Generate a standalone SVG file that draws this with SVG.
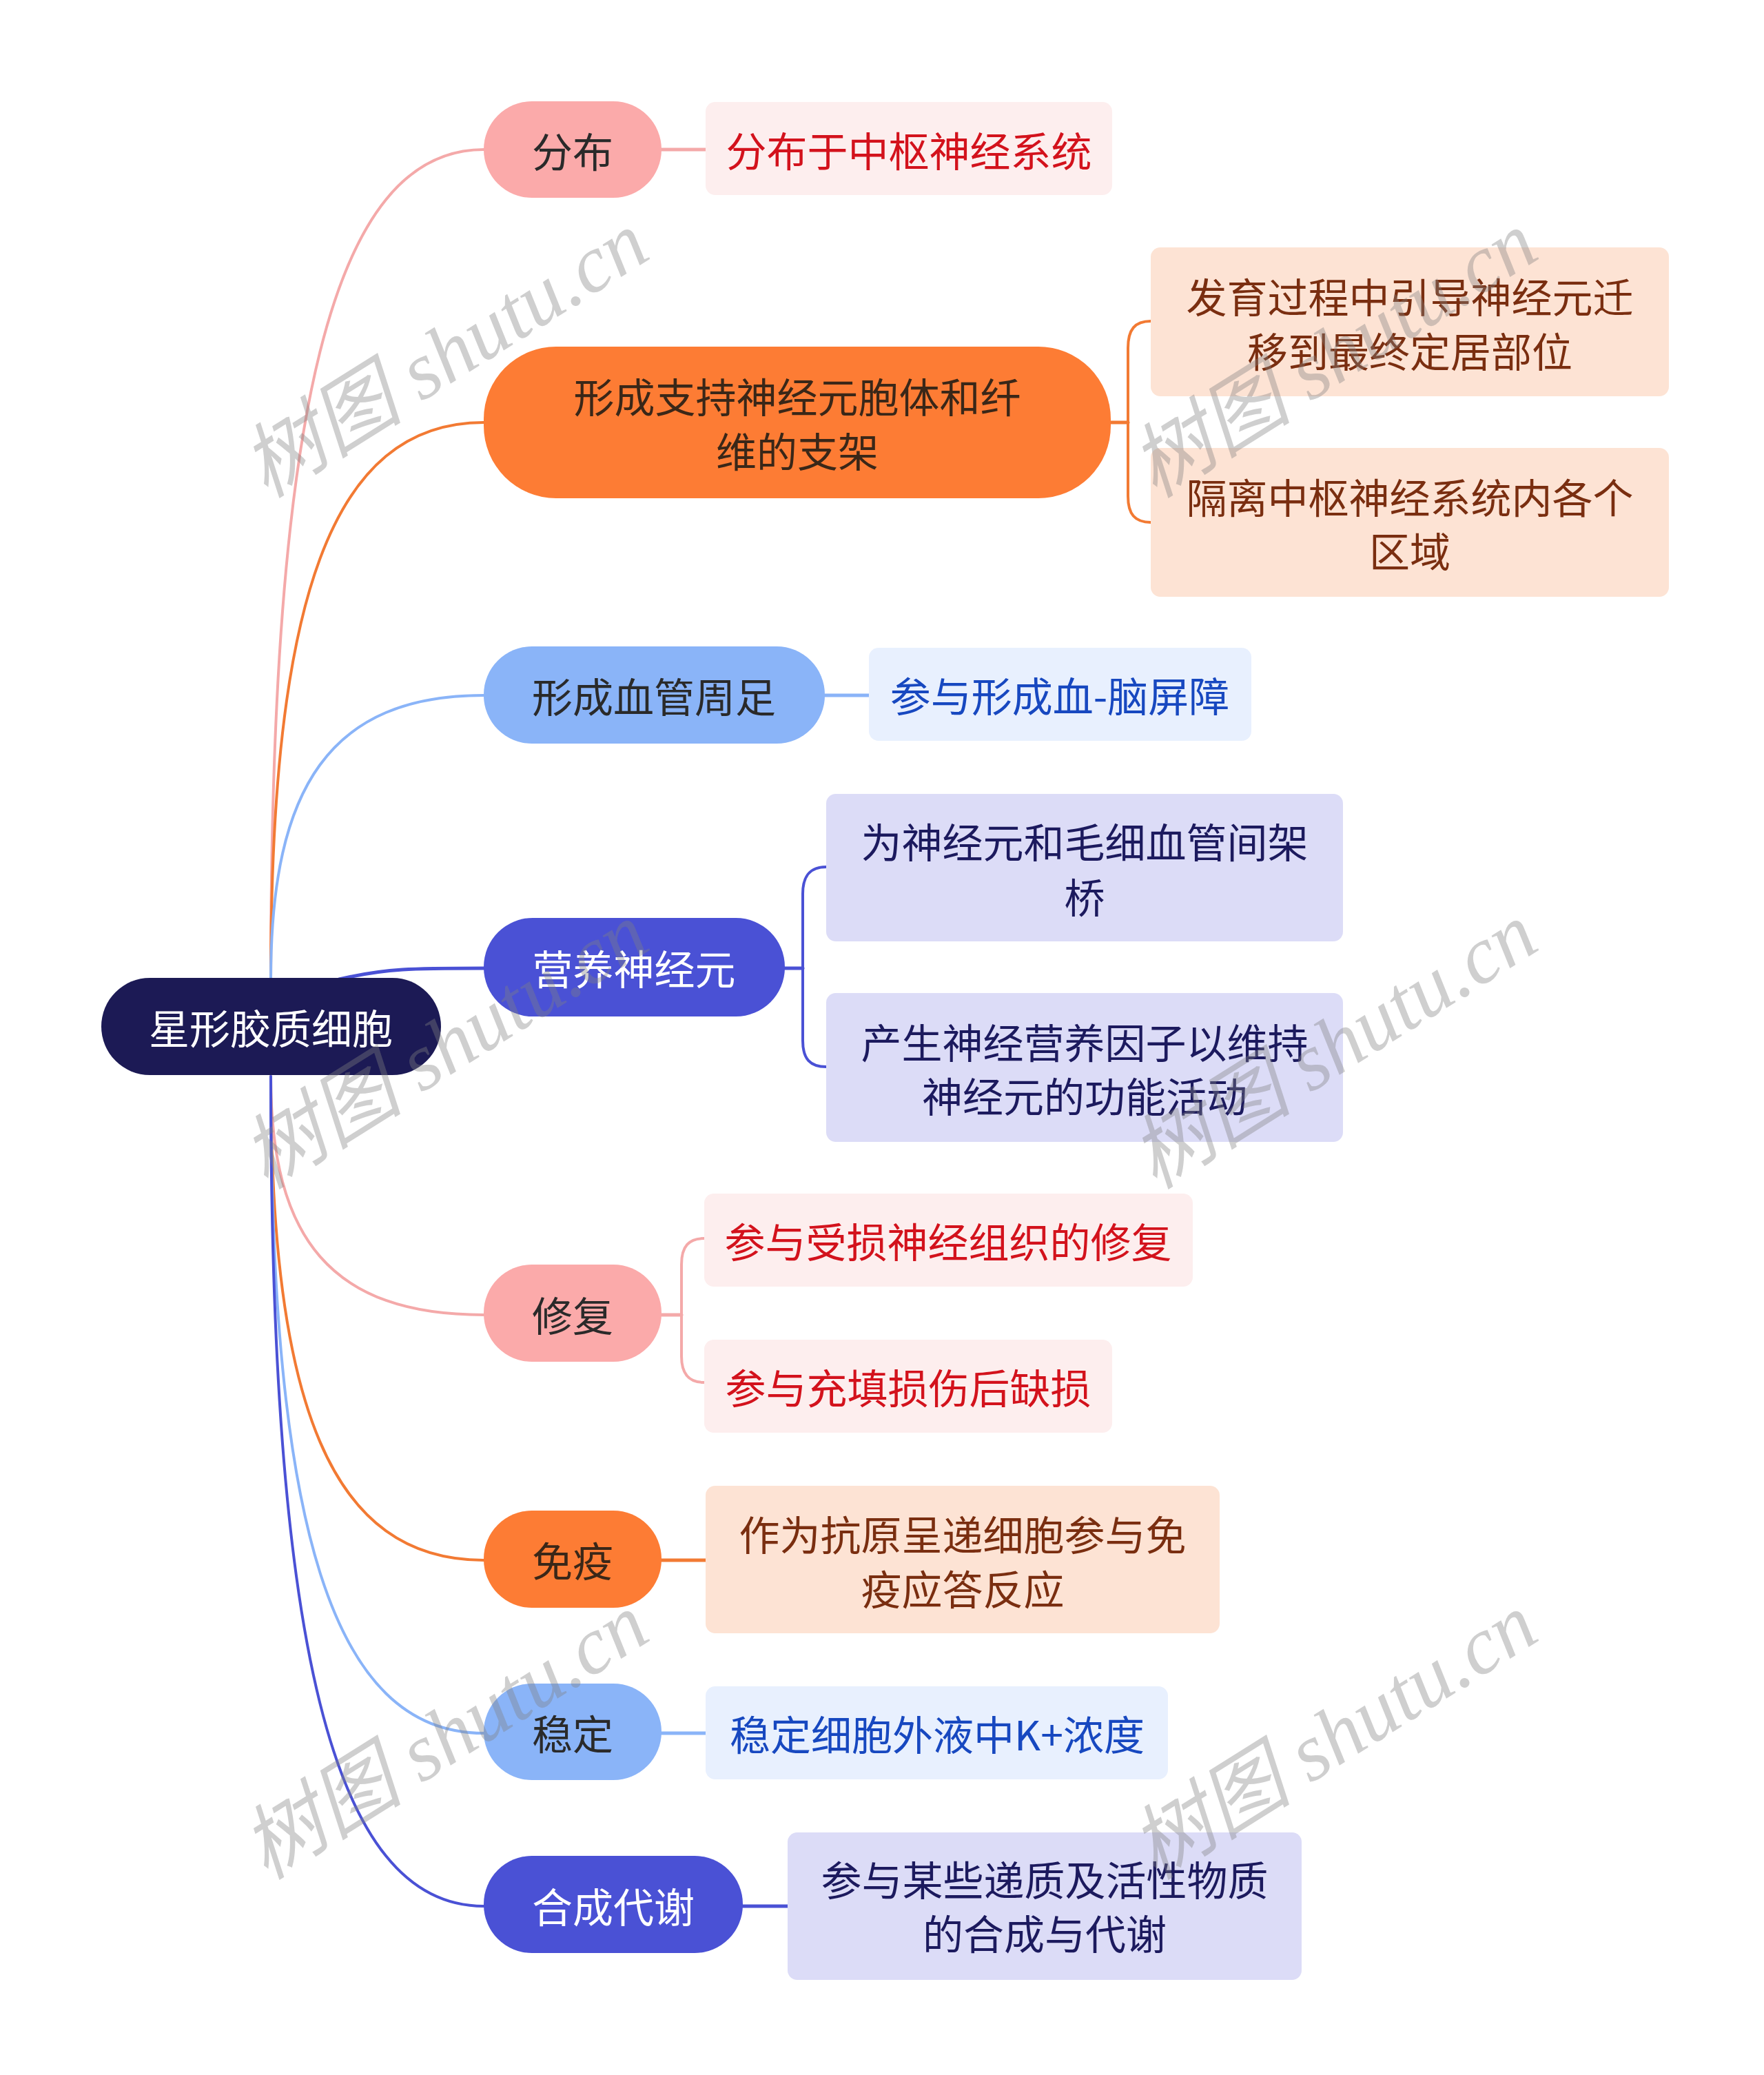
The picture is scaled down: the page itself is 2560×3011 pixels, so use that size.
<svg xmlns="http://www.w3.org/2000/svg" width="2560" height="3011" viewBox="0 0 2560 3011">
<style>
text{font-family:"Noto Sans CJK SC","Noto Sans",sans-serif;font-size:59px;text-anchor:middle;dominant-baseline:central}
.root{fill:#1c1a55}
.pk{fill:#fbaaaa}.or{fill:#fd7c34}.lb{fill:#8ab4f8}.ib{fill:#4a51d5}
.pkc{fill:#fdeeee}.orc{fill:#fde3d4}.lbc{fill:#e8f0fe}.ibc{fill:#dcdcf7}
.tw{fill:#ffffff}.td{fill:#2a2a2a}.tob{fill:#3a2718}
.tr{fill:#d3121c}.tbr{fill:#7a2e10}.tbl{fill:#1748c0}.tnv{fill:#1c1a5e}
.c{fill:none;stroke-linecap:round}
.cpk{stroke:#f4a9a9}.cor{stroke:#f27a33}.clb{stroke:#8ab4f8}.cib{stroke:#4a51d5}
.wm{font-family:"Liberation Serif","Noto Sans CJK SC",serif;font-style:italic;font-size:118px;fill:#808080;fill-opacity:0.38}
</style>
<rect width="2560" height="3011" fill="#ffffff"/>
<g id="connectors">
<path class="c cpk" stroke-width="4" d="M393 1421 C393 600 480 217 702 217"/>
<path class="c cor" stroke-width="4" d="M393 1421 C393 872 480 613 702 613"/>
<path class="c clb" stroke-width="4" d="M393 1421 C393 1141 480 1009 702 1009"/>
<path class="c cib" stroke-width="5" d="M492 1421 C560 1405 600 1405 702 1405"/>
<path class="c cpk" stroke-width="4" d="M393 1562 C393 1797 480 1908 702 1908"/>
<path class="c cor" stroke-width="4" d="M393 1562 C393 2039 480 2264 702 2264"/>
<path class="c clb" stroke-width="4" d="M393 1562 C393 2210 480 2515 702 2515"/>
<path class="c cib" stroke-width="4" d="M393 1562 C393 2381 480 2766 702 2766"/>
<path class="c cpk" stroke-width="5" d="M960 217 L1024 217"/>
<path class="c cor" stroke-width="5" d="M1612 613 L1637 613"/>
<path class="c cor" stroke-width="4" d="M1670 466 C1647 466 1637 478 1637 505 L1637 720 C1637 746 1647 758 1670 758"/>
<path class="c clb" stroke-width="5" d="M1197 1009 L1261 1009"/>
<path class="c cib" stroke-width="5" d="M1139 1405 L1165 1405"/>
<path class="c cib" stroke-width="4" d="M1199 1258 C1176 1258 1165 1270 1165 1297 L1165 1510 C1165 1537 1176 1548 1199 1548"/>
<path class="c cpk" stroke-width="5" d="M960 1908 L989 1908"/>
<path class="c cpk" stroke-width="4" d="M1022 1797 C1000 1797 989 1808 989 1835 L989 1968 C989 1994 1000 2006 1022 2006"/>
<path class="c cor" stroke-width="5" d="M960 2264 L1024 2264"/>
<path class="c clb" stroke-width="5" d="M960 2515 L1024 2515"/>
<path class="c cib" stroke-width="5" d="M1078 2766 L1143 2766"/>
</g>
<g id="root"><rect class="root" x="147" y="1419" width="493" height="141" rx="70.5"/><text class="tw" x="393" y="1489">星形胶质细胞</text></g>
<g id="n1"><rect class="pk" x="702" y="147" width="258" height="140" rx="70"/><text class="td" x="831" y="217">分布</text></g>
<g id="n1a"><rect class="pkc" x="1024" y="148" width="590" height="135" rx="14"/><text class="tr" x="1319" y="216">分布于中枢神经系统</text></g>
<g id="n2"><rect class="or" x="702" y="503" width="910" height="220" rx="105"/><text class="tob" x="1157" y="573">形成支持神经元胞体和纤</text><text class="tob" x="1157" y="652">维的支架</text></g>
<g id="n2a"><rect class="orc" x="1670" y="359" width="752" height="216" rx="14"/><text class="tbr" x="2046" y="428">发育过程中引导神经元迁</text><text class="tbr" x="2046" y="507">移到最终定居部位</text></g>
<g id="n2b"><rect class="orc" x="1670" y="650" width="752" height="216" rx="14"/><text class="tbr" x="2046" y="719">隔离中枢神经系统内各个</text><text class="tbr" x="2046" y="797">区域</text></g>
<g id="n3"><rect class="lb" x="702" y="938" width="495" height="141" rx="70"/><text class="td" x="949" y="1008">形成血管周足</text></g>
<g id="n3a"><rect class="lbc" x="1261" y="940" width="555" height="135" rx="14"/><text class="tbl" x="1538" y="1007">参与形成血-脑屏障</text></g>
<g id="n4"><rect class="ib" x="702" y="1332" width="437" height="143" rx="71"/><text class="tw" x="920" y="1403">营养神经元</text></g>
<g id="n4a"><rect class="ibc" x="1199" y="1152" width="750" height="214" rx="14"/><text class="tnv" x="1574" y="1219">为神经元和毛细血管间架</text><text class="tnv" x="1574" y="1299">桥</text></g>
<g id="n4b"><rect class="ibc" x="1199" y="1441" width="750" height="216" rx="14"/><text class="tnv" x="1574" y="1510">产生神经营养因子以维持</text><text class="tnv" x="1574" y="1588">神经元的功能活动</text></g>
<g id="n5"><rect class="pk" x="702" y="1835" width="258" height="141" rx="70"/><text class="td" x="831" y="1906">修复</text></g>
<g id="n5a"><rect class="pkc" x="1022" y="1732" width="709" height="135" rx="14"/><text class="tr" x="1376" y="1799">参与受损神经组织的修复</text></g>
<g id="n5b"><rect class="pkc" x="1022" y="1944" width="592" height="135" rx="14"/><text class="tr" x="1318" y="2011">参与充填损伤后缺损</text></g>
<g id="n6"><rect class="or" x="702" y="2192" width="258" height="141" rx="70"/><text class="tob" x="831" y="2262">免疫</text></g>
<g id="n6a"><rect class="orc" x="1024" y="2156" width="746" height="214" rx="14"/><text class="tbr" x="1397" y="2224">作为抗原呈递细胞参与免</text><text class="tbr" x="1397" y="2303">疫应答反应</text></g>
<g id="n7"><rect class="lb" x="702" y="2443" width="258" height="140" rx="70"/><text class="td" x="831" y="2513">稳定</text></g>
<g id="n7a"><rect class="lbc" x="1024" y="2447" width="671" height="135" rx="14"/><text class="tbl" x="1360" y="2514">稳定细胞外液中K+浓度</text></g>
<g id="n8"><rect class="ib" x="702" y="2693" width="376" height="141" rx="70"/><text class="tw" x="890" y="2764">合成代谢</text></g>
<g id="n8a"><rect class="ibc" x="1143" y="2659" width="746" height="214" rx="14"/><text class="tnv" x="1516" y="2725">参与某些递质及活性物质</text><text class="tnv" x="1516" y="2803">的合成与代谢</text></g>
<g id="watermarks">
<text class="wm" transform="translate(646 515) rotate(-32)" x="0" y="0">树图 shutu.cn</text>
<text class="wm" transform="translate(1936 515) rotate(-32)" x="0" y="0">树图 shutu.cn</text>
<text class="wm" transform="translate(646 1518) rotate(-32)" x="0" y="0">树图 shutu.cn</text>
<text class="wm" transform="translate(1936 1518) rotate(-32)" x="0" y="0">树图 shutu.cn</text>
<text class="wm" transform="translate(646 2520) rotate(-32)" x="0" y="0">树图 shutu.cn</text>
<text class="wm" transform="translate(1936 2520) rotate(-32)" x="0" y="0">树图 shutu.cn</text>
</g>
</svg>
